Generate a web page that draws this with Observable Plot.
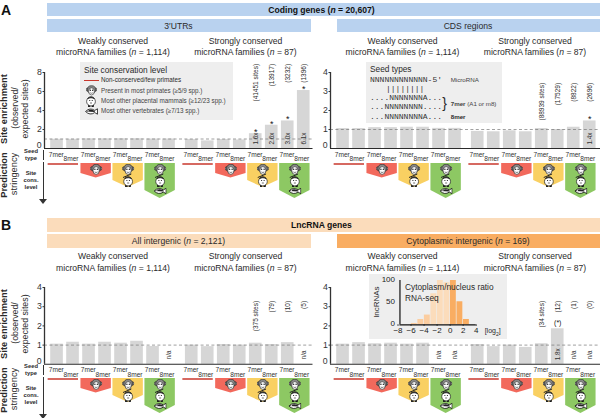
<!DOCTYPE html>
<html><head><meta charset="utf-8">
<script src="https://cdn.jsdelivr.net/npm/d3@7"></script>
<script src="https://cdn.jsdelivr.net/npm/@observablehq/plot@0.6"></script>
<style>
html,body{margin:0;padding:0;background:#fff}
#page{position:relative;width:600px;height:418px;overflow:hidden;font-family:"Liberation Sans",Arial,sans-serif;color:#222}
#page>svg{position:absolute;background:transparent;overflow:visible}
.t{position:absolute;white-space:nowrap;line-height:1}
.box{position:absolute}
</style></head><body><div id="page"></div>
<script>
// ---------- data ----------
const utrWeak = [0.97,0.97,1.02,1.02,1.03,1.03,1.0,1.0];
const utrStrong = [0.95,0.8,0.95,0.9,1.56,2.45,2.9,6.1];
const utrCounts = ["(41451 sites)","(13917)","(3232)","(1396)"];
const utrFolds = ["1.6x","2.6x","3.0x","6.1x"];
const utrStars = ["*","*","*","*"];
const cdsWeak = [1.05,1.05,1.1,1.1,1.12,1.12,1.06,1.06];
const cdsStrong = [0.9,0.88,0.93,0.88,1.05,1.0,1.12,1.45];
const cdsCounts = ["(88939 sites)","(17529)","(8822)","(2696)"];
const cdsFolds = [null,null,null,"1.4x"];
const cdsStars = [null,null,null,"*"];
const allWeak = [1.05,1.15,1.05,1.15,1.1,1.2,0.93,null];
const allStrong = [1.0,0.92,1.03,1.0,1.1,1.03,1.13,null];
const allCounts = ["(375 sites)","(79)","(10)","(5)"];
const allFolds = [null,null,null,null];
const allStars = [null,null,null,null];
const cytWeak = [1.05,1.13,1.07,1.1,1.05,1.1,null,null];
const cytStrong = [1.03,0.92,1.0,0.88,1.07,1.85,null,null];
const cytCounts = ["(34 sites)","(12)","(1)","(0)"];
const cytFolds = [null,"1.8x",null,null];
const cytStars = [null,"(*)",null,null];
const seedTypes = ["7mer","8mer"];
const histBins = [-6,-5,-4,-3,-2,-1,0,1,2];
const histCounts = [3,12,22,70,100,95,100,52,12];
const histTicks = [-8,-6,-4,-2,0,2,4];
const INK = "#2a2a2a", FONT = '"Liberation Sans",Arial,sans-serif';
const page = document.getElementById("page");

// ---------- icons ----------
const uri = s => "data:image/svg+xml," + encodeURIComponent(`<svg xmlns="http://www.w3.org/2000/svg" viewBox="0 0 24 24">${s}</svg>`);
const monkey = uri(`<g stroke="#222" stroke-width="1.3"><circle cx="3.6" cy="10" r="3.4" fill="#999"/><circle cx="20.4" cy="10" r="3.4" fill="#999"/><ellipse cx="12" cy="10" rx="8.8" ry="8.6" fill="#888"/><ellipse cx="12" cy="14" rx="6.2" ry="7.8" fill="#fff"/></g><circle cx="9.5" cy="11.5" r="1.5" fill="#222"/><circle cx="14.5" cy="11.5" r="1.5" fill="#222"/><path d="M9 17q3 2 6 0" stroke="#222" fill="none" stroke-width="1.2"/>`);
const sheep = uri(`<g stroke="#111" stroke-width="1.3"><rect x="7" y="19" width="3" height="4.5" fill="#222"/><rect x="14" y="19" width="3" height="4.5" fill="#222"/><circle cx="12" cy="13" r="8.8" fill="#fff"/><path d="M5 7q7-7 14 0q-7-3-14 0z" fill="#555"/></g><circle cx="9.5" cy="11" r="1.2" fill="#111"/><circle cx="14.5" cy="11" r="1.2" fill="#111"/><path d="M10 16h4" stroke="#111" stroke-width="1.2"/>`);
const fish = uri(`<path d="M1 12Q9 4 18 10L23 7V17L18 14Q9 20 1 12z" fill="#fff" stroke="#111" stroke-width="1.5"/><path d="M2 12Q9 6 18 11L18 13Q9 12 2 12z" fill="#222"/><circle cx="6" cy="10.8" r="1" fill="#fff"/>`);

// ---------- html helpers ----------
function txt(html,x,y,o={}){
  const d=document.createElement("div"); d.className="t"; d.innerHTML=html;
  const ax=o.align==="left"?"0":o.align==="right"?"-100%":"-50%";
  d.style.cssText=`left:${x}px;top:${y}px;font-size:${o.size||8}px;transform:translate(${ax},-50%)${o.rot?` rotate(${o.rot}deg)`:""};font-weight:${o.bold?"bold":"normal"};font-family:${o.family||"inherit"};color:${o.color||INK};z-index:${o.z||5}`;
  page.appendChild(d);
}
function box(x0,y0,x1,y1,c){
  const d=document.createElement("div"); d.className="box";
  d.style.cssText=`left:${x0}px;top:${y0}px;width:${x1-x0}px;height:${y1-y0}px;background:${c}`;
  page.appendChild(d);
}
function icon(src,x,y,w){
  const i=document.createElement("img"); i.src=src;
  i.style.cssText=`position:absolute;left:${x-w/2}px;top:${y-w/2}px;width:${w}px;height:${w}px;z-index:5`;
  page.appendChild(i);
}

// ---------- panels ----------
const SLOT=16, START=6.2/SLOT, GROUP=[0,8.42];
const pos=(g,i)=>START+GROUP[g]+i;
function barPanel({axisX,top,bottom,maxY,ticks,weak,strong,counts,folds,stars,countTop,span}){
  const rows=[...weak.map((v,i)=>({v,x:pos(0,i),i})),...strong.map((v,i)=>({v,x:pos(1,i),i:i+8}))];
  const last=strong.map((v,i)=>({v,x:pos(1,i)+0.395,j:i})).slice(4);
  const W=span/SLOT, ML=16, pad=18;
  const hasParen=stars.includes("(*)");
  const marks=[
    Plot.rectY(rows.filter(d=>d.v!=null),{x1:"x",x2:d=>d.x+0.79,y1:0,y2:"v",fill:"#d6d6d6"}),
    Plot.ruleY([1],{x1:0,x2:W,stroke:"#777",strokeWidth:0.7,strokeDasharray:"3,2.4"}),
    Plot.ruleY([0],{x1:0,x2:W,stroke:INK,strokeWidth:1.1}),
    Plot.ruleX([0],{y1:0,y2:maxY,stroke:"#333",strokeWidth:1.3}),
    Plot.axisY({ticks:ticks.filter(t=>t>0),tickFormat:d=>String(d),tickSize:1.5,tickPadding:1.2,fontSize:8.7,stroke:"#333",fill:"#333",label:null}),
    Plot.text([0],{y:d=>d,x:0,text:d=>"0",textAnchor:"end",dx:-3,dy:-3,fontSize:8.7,fill:"#333"}),
    Plot.text(last,{x:"x",y:()=>countTop,text:(d,k)=>counts[k],rotate:-90,textAnchor:"end",fontSize:6.5,fill:INK}),
    Plot.text(last.filter((d,k)=>folds[k]),{x:"x",y:()=>0,text:d=>folds[d.j-4],rotate:-90,dy:-10,fontSize:6.4,fill:"#333"}),
    Plot.text(last.filter((d,k)=>stars[k]),{x:"x",y:"v",text:d=>stars[d.j-4],dy:hasParen?-6:-1.5,fontSize:hasParen?7:9,fill:"#111"}),
    Plot.text(rows.filter(d=>d.v==null),{x:d=>d.x+0.395,y:()=>0,text:()=>"n/a",rotate:-90,dy:-9.5,fontSize:6.4,fill:INK}),
    Plot.text(rows.filter(d=>d.i%2==0),{x:d=>d.x+0.35,y:()=>0,text:()=>seedTypes[0],dy:6,fontSize:6.6,fill:"#333"}),
    Plot.text(rows.filter(d=>d.i%2==1),{x:d=>d.x+0.27,y:()=>0,text:()=>seedTypes[1],dy:10.5,fontSize:6.6,fill:"#333"})
  ];
  const svg=Plot.plot({width:ML+span,height:pad+(bottom-top)+pad,marginLeft:ML,marginRight:0,marginTop:pad,marginBottom:pad,
    x:{domain:[0,W],axis:null},y:{domain:[0,maxY]},style:{background:"transparent",overflow:"visible",fontFamily:FONT},marks});
  svg.style.left=(axisX-ML)+"px"; svg.style.top=(top-pad)+"px";
  page.appendChild(svg);
}

const SIDE=[0,10,17,27], TIP=[0,14.5,24,35], FILL=[null,"#f2695c","#f9d062","#8dc863"], RED="#c8372d";
function strip({axisX,top,span}){
  const W=span/SLOT, ML=16;
  const marks=[];
  for(const g of [0,1]) for(let l=0;l<4;l++){
    const x1=pos(g,2*l)-0.11, x2=pos(g,2*l)+1.79, c=(x1+x2)/2;
    if(l===0){ marks.push(Plot.ruleY([0.5],{x1:x1-0.05,x2:x2-0.05,stroke:RED,strokeWidth:1.5})); continue; }
    marks.push(Plot.areaY([{x:x1,d:SIDE[l]},{x:c,d:TIP[l]},{x:x2,d:SIDE[l]}],{x:"x",y1:0,y2:"d",fill:FILL[l]}));
    const ic=[{src:monkey,d:6,w:12}];
    if(l>=2) ic.push({src:sheep,d:17.5,w:12});
    if(l>=3) ic.push({src:fish,d:27.5,w:13});
    marks.push(Plot.image(ic,{x:()=>c,y:"d",width:"w",height:"w",src:d=>d.src}));
    if(l>=2) marks.push(Plot.link([0],{x1:()=>c-0.32,x2:()=>c+0.2,y1:()=>14,y2:()=>10.5,stroke:"#222",strokeWidth:1}));
  }
  const svg=Plot.plot({width:ML+span,height:44,marginLeft:ML,marginRight:0,marginTop:2,marginBottom:2,
    x:{domain:[0,W],axis:null},y:{domain:[0,40],reverse:true,axis:null},style:{background:"transparent",overflow:"visible",fontFamily:FONT},marks});
  svg.style.left=(axisX-ML)+"px"; svg.style.top=(top-2)+"px";
  page.appendChild(svg);
}

// ---------- frame (section A and B share it) ----------
const BLUE="#b9d2ef", PEACH="#fbdcbb", ORANGE="#f9ad62";
function section(dy,c1,c2L,c2R,h1,h2L,h2R,letter){
  box(47,3+dy,600,16.2+dy,c1); box(47,18.7+dy,310.7,32.2+dy,c2L); box(336.7,18.7+dy,600,32.2+dy,c2R);
  txt(letter,1,9.5+dy,{align:"left",size:14,bold:true,color:"#111"});
  txt(h1,321.5,9.7+dy,{size:8.6,bold:true,color:"#111"});
  txt(h2L,178.5,25.5+dy,{size:8.6}); txt(h2R,468,25.5+dy,{size:8.6});
  for(const cx of [113,245.5,402.5,535]){
    const weak=cx<200||(cx>300&&cx<500);
    txt(weak?"Weakly conserved":"Strongly conserved",cx,41+dy,{size:8.6});
    txt(`microRNA families (<i>n</i> = ${weak?"1,114":"87"})`,cx,52.3+dy,{size:8.6});
  }
  txt("Site enrichment",4.5,108.7+dy,{size:9.3,bold:true,rot:-90});
  txt("(observed/",15,108+dy,{size:8.8,rot:-90});
  txt("expected sites)",25,108.5+dy,{size:8.8,rot:-90});
  txt("Prediction",4.5,175+dy,{size:9.3,bold:true,rot:-90});
  txt("stringency",14.5,173.5+dy,{size:9.3,rot:-90});
  txt("Seed",31,152+dy,{size:5.8,bold:true}); txt("type",31,158.6+dy,{size:5.8,bold:true});
  txt("Site",31,174+dy,{size:5.8,bold:true}); txt("cons.",31,181+dy,{size:5.8,bold:true}); txt("level",31,187.8+dy,{size:5.8,bold:true});
  box(42.8,150+dy,44,160+dy,"#333");
  box(42.6,162+dy,43.6,200+dy,"#333");
  const a=document.createElementNS("http://www.w3.org/2000/svg","svg");
  a.setAttribute("width",8);a.setAttribute("height",6);a.style.cssText=`left:39px;top:${199+dy}px`;
  a.innerHTML='<path d="M0 0H8L4 5z" fill="#333"/>'; page.appendChild(a);
}
section(0,BLUE,BLUE,BLUE,"Coding genes (<i>n</i> = 20,607)","3′UTRs","CDS regions","A");
section(215.4,PEACH,PEACH,ORANGE,"LncRNA genes","All intergenic (<i>n</i> = 2,121)","Cytoplasmic intergenic (<i>n</i> = 169)","B");

// ---------- grey boxes ----------
box(80,62,232.7,120,"#eeeeee");
txt("Site conservation level",84,69.7,{align:"left",size:8.3});
box(84,79.7,99,80.9,RED);
txt("Non-conserved/few primates",101,80.3,{align:"left",size:6.3});
txt("Present in most primates (≥5/9 spp.)",101,90.5,{align:"left",size:6.3,color:"#444"});
txt("Most other placental mammals (≥12/23 spp.)",101,100.7,{align:"left",size:6.3,color:"#444"});
txt("Most other vertebrates (≥7/13 spp.)",101,110.7,{align:"left",size:6.3,color:"#444"});
icon(monkey,91,90.3,11); icon(sheep,91,100.6,12); icon(fish,91,111,13);

box(366,62,501.7,122.7,"#eeeeee");
const MONO='"Liberation Mono",monospace';
txt("Seed types",370,69,{align:"left",size:8.3});
txt("NNNNNNNNNNNN-5′",370,80.3,{align:"left",size:8,family:MONO,color:"#333"});
txt("||||||||",386,89,{align:"left",size:8,family:MONO,color:"#333"});
txt("....NNNNNNNA...",370,98,{align:"left",size:8,family:MONO,color:"#333"});
txt("...NNNNNNNN....",370,107.3,{align:"left",size:8,family:MONO,color:"#333"});
txt("...NNNNNNNNA...",370,117.3,{align:"left",size:8,family:MONO,color:"#333"});
txt("}",444.5,103,{size:14});
txt("MicroRNA",450.7,80,{align:"left",size:6.2,color:"#444"});
txt("<b>7mer</b> (A1 or m8)",450.7,103.6,{align:"left",size:6.2,color:"#444"});
txt("8mer",450.7,117.3,{align:"left",size:6.2,bold:true});

box(369,274,507.3,339.3,"#eeeeee");

// ---------- bar panels ----------
const tk8=[0,2,4,6,8], tk4=[0,1,2,3,4];
barPanel({axisX:43.5,top:71.5,bottom:147.5,maxY:8,ticks:tk8,weak:utrWeak,strong:utrStrong,counts:utrCounts,folds:utrFolds,stars:utrStars,countTop:8.9,span:268.5});
barPanel({axisX:330,top:71.5,bottom:147.5,maxY:4,ticks:tk4,weak:cdsWeak,strong:cdsStrong,counts:cdsCounts,folds:cdsFolds,stars:cdsStars,countTop:3.45,span:270});
barPanel({axisX:43.5,top:286.5,bottom:363.3,maxY:4,ticks:tk4,weak:allWeak,strong:allStrong,counts:allCounts,folds:allFolds,stars:allStars,countTop:3.3,span:268.5});
barPanel({axisX:330,top:286.5,bottom:363.3,maxY:4,ticks:tk4,weak:cytWeak,strong:cytStrong,counts:cytCounts,folds:cytFolds,stars:cytStars,countTop:3.3,span:270});
strip({axisX:43.5,top:162.5,span:268.5});
strip({axisX:330,top:162.5,span:270});
strip({axisX:43.5,top:377.8,span:268.5});
strip({axisX:330,top:377.8,span:270});

// ---------- inset histogram ----------
const hist=histBins.map((b,i)=>({b,n:histCounts[i]}));
const inset=Plot.plot({width:125,height:72,marginLeft:21.5,marginRight:25.3,marginTop:8,marginBottom:19.7,
  x:{domain:[-8,4],axis:null},y:{domain:[0,100]},style:{background:"transparent",overflow:"visible",fontFamily:FONT},
  marks:[
    Plot.rectY(hist,{x1:d=>d.b+0.05,x2:d=>d.b+0.95,y1:0,y2:"n",fill:d=>d.b>=0?ORANGE:d.b>=-3?PEACH:"#fbcda0"}),
    Plot.ruleY([0],{x1:-7.7,x2:4,stroke:"#111",strokeWidth:1.2}),
    Plot.ruleX([-7.7],{y1:0,y2:100,stroke:"#111",strokeWidth:1.2}),
    Plot.axisY({ticks:[0,50,100],tickSize:0,tickPadding:3,fontSize:8,fill:"#222",label:null,dy:-1}),
    Plot.axisX({ticks:histTicks,tickSize:1.5,tickPadding:1.5,fontSize:8,fill:"#222",label:null})
  ]});
inset.style.left="376px"; inset.style.top="272px"; page.appendChild(inset);
txt("lncRNAs",376.7,302,{size:8,rot:-90});
txt("Cytoplasm/nucleus ratio",405,287.3,{align:"left",size:8.3});
txt("RNA-seq",405,297.5,{align:"left",size:8.3});
txt("[log<sub style='font-size:5px'>2</sub>]",492.7,332,{size:7});
</script></body></html>
